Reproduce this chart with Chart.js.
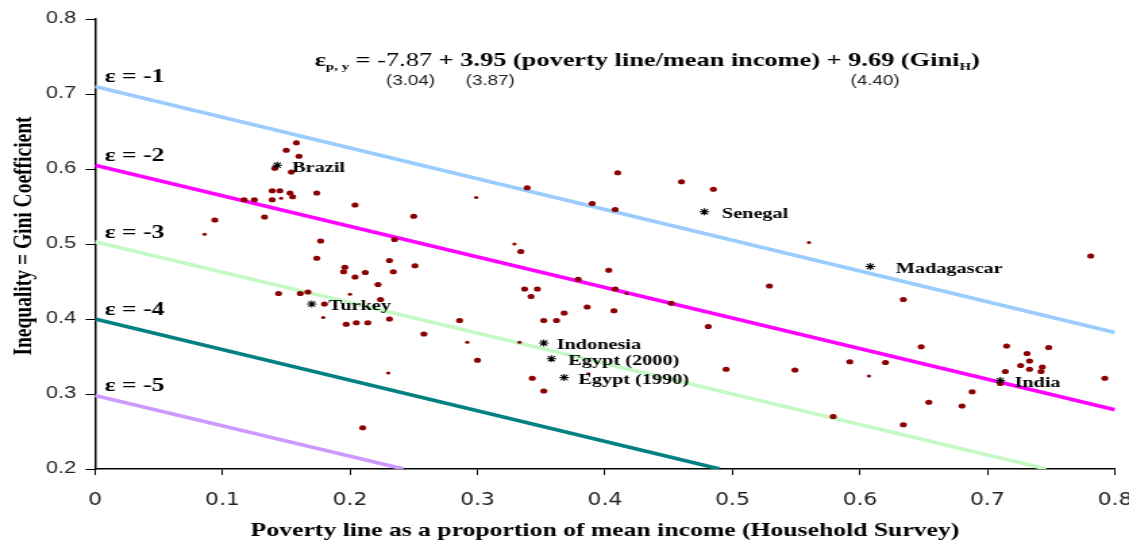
<!DOCTYPE html>
<html>
<head>
<meta charset="utf-8">
<script src="https://cdn.jsdelivr.net/npm/chart.js@4.4.1/dist/chart.umd.min.js"></script>
<style>
    html, body { margin: 0; padding: 0; background: #fff; overflow: hidden; }
    /* the original picture is stretched sideways, so the canvas is drawn narrow and widened */
    #chart { display: block; transform: scaleX(1.3505); transform-origin: 0 0; }
</style>
</head>
<body>
<canvas id="chart" width="836" height="543"></canvas>
<script>
// Tick labels
const xTicks = [0, 0.1, 0.2, 0.3, 0.4, 0.5, 0.6, 0.7, 0.8];
const yTicks = [0.2, 0.3, 0.4, 0.5, 0.6, 0.7, 0.8];

// Iso-elasticity lines (start and end points)
const elasticityLabels = ['ε = -1', 'ε = -2', 'ε = -3', 'ε = -4', 'ε = -5'];
const elasticityColors = ['#99ccff', '#ff00ff', '#c4f8c4', '#008080', '#cc99ff'];
const lineStartY = [0.710, 0.605, 0.503, 0.400, 0.298];
const lineEndX = [0.8, 0.8, 0.746, 0.490, 0.242];
const lineEndY = [0.382, 0.279, 0.2, 0.2, 0.2];

// Survey observations
const dotX = [0.158, 0.150, 0.160, 0.141, 0.154, 0.139, 0.145, 0.153, 0.155, 0.174,
    0.139, 0.117, 0.125, 0.204, 0.250, 0.133, 0.094, 0.177, 0.235, 0.174,
    0.231, 0.251, 0.196, 0.195, 0.212, 0.204, 0.234, 0.222, 0.144, 0.161,
    0.167, 0.224, 0.180, 0.231, 0.197, 0.205, 0.214,
    0.410, 0.460, 0.485, 0.339, 0.390, 0.408, 0.334, 0.403, 0.379, 0.408,
    0.452, 0.529, 0.337, 0.347, 0.342, 0.386, 0.407, 0.368, 0.352, 0.362,
    0.286, 0.481, 0.258, 0.300, 0.495, 0.549, 0.343, 0.352,
    0.781, 0.634, 0.648, 0.715, 0.731, 0.748, 0.733, 0.726, 0.733, 0.743,
    0.742, 0.714, 0.710, 0.592, 0.620, 0.792, 0.688, 0.654, 0.680, 0.579,
    0.634, 0.210];
const dotY = [0.635, 0.625, 0.617, 0.601, 0.596, 0.571, 0.571, 0.568, 0.563, 0.568,
    0.559, 0.559, 0.559, 0.552, 0.537, 0.536, 0.532, 0.504, 0.506, 0.481,
    0.478, 0.471, 0.469, 0.463, 0.462, 0.456, 0.463, 0.446, 0.434, 0.434,
    0.436, 0.426, 0.420, 0.400, 0.393, 0.395, 0.395,
    0.595, 0.583, 0.573, 0.575, 0.554, 0.546, 0.490, 0.465, 0.453, 0.440,
    0.421, 0.444, 0.440, 0.440, 0.430, 0.416, 0.411, 0.408, 0.398, 0.398,
    0.398, 0.390, 0.380, 0.345, 0.333, 0.332, 0.321, 0.304,
    0.484, 0.426, 0.363, 0.364, 0.354, 0.362, 0.344, 0.338, 0.333, 0.336,
    0.330, 0.330, 0.314, 0.343, 0.342, 0.321, 0.303, 0.289, 0.284, 0.270,
    0.259, 0.255];
const smallDotX = [0.146, 0.086, 0.200, 0.179, 0.299, 0.329, 0.417, 0.292, 0.333,
    0.387, 0.560, 0.607, 0.230];
const smallDotY = [0.561, 0.513, 0.433, 0.402, 0.562, 0.500, 0.434, 0.369, 0.369,
    0.327, 0.502, 0.324, 0.328];

// Named countries
const countryNames = ['Brazil', 'Turkey', 'Senegal', 'Madagascar', 'India',
    'Indonesia', 'Egypt (2000)', 'Egypt (1990)'];
const countryX = [0.143, 0.170, 0.478, 0.608, 0.710, 0.352, 0.358, 0.368];
const countryY = [0.605, 0.420, 0.543, 0.470, 0.318, 0.368, 0.347, 0.322];

const serif = '"Liberation Serif", "Times New Roman", serif';
const sans = '"Liberation Sans", Arial, sans-serif';

// Label offsets next to each star, in canvas pixels
const countryLabelDx = [11, 12.5, 13, 19, 10.5, 9.5, 12.5, 10.5];

const annotations = {
    id: 'annotations',
    afterDraw(chart) {
        const { ctx } = chart;
        const x = chart.scales.x;
        const y = chart.scales.y;
        ctx.save();
        ctx.fillStyle = '#000';

        // epsilon labels above each line
        ctx.font = 'bold 19px ' + serif;
        ctx.textAlign = 'left';
        ctx.textBaseline = 'middle';
        elasticityLabels.forEach((t, i) => {
            ctx.fillText(t, 77.5, y.getPixelForValue(lineStartY[i]) - 9);
        });

        // country names
        ctx.font = 'bold 15px ' + serif;
        countryNames.forEach((name, i) => {
            ctx.fillText(name, x.getPixelForValue(countryX[i]) + countryLabelDx[i],
                y.getPixelForValue(countryY[i]) + 2.5);
        });

        // regression equation
        ctx.textBaseline = 'alphabetic';
        const parts = [
            { t: 'ε', f: 'bold 19.5px ', dy: 0 },
            { t: 'p, y', f: 'bold 11px ', dy: 4 },
            { t: ' = ', f: 'bold 19.5px ', dy: 0 },
            { t: '-7.87', f: '19.5px ', dy: 0 },
            { t: ' + 3.95 (poverty line/mean income) + 9.69 (Gini', f: 'bold 19.5px ', dy: 0 },
            { t: 'H', f: 'bold 11px ', dy: 4 },
            { t: ')', f: 'bold 19.5px ', dy: 0 }
        ];
        let px = 233;
        parts.forEach(p => {
            ctx.font = p.f + serif;
            ctx.fillText(p.t, px, 66 + p.dy);
            px += ctx.measureText(p.t).width;
        });

        // standard errors
        ctx.font = '14px ' + sans;
        ctx.textAlign = 'center';
        ctx.textBaseline = 'middle';
        ctx.fillStyle = '#222';
        ctx.fillText('(3.04)', 304, 81);
        ctx.fillText('(3.87)', 363, 81);
        ctx.fillText('(4.40)', 648, 81);

        // axis titles
        ctx.fillStyle = '#000';
        ctx.font = 'bold 19px ' + serif;
        ctx.fillText('Poverty line as a proportion of mean income (Household Survey)', 448, 531);
        ctx.translate(18, 236);
        ctx.rotate(-Math.PI / 2);
        ctx.font = 'bold 19.5px ' + serif;
        ctx.fillText('Inequality = Gini Coefficient', 0, 0);
        ctx.restore();
    }
};

const toPoints = (xs, ys) => xs.map((v, i) => ({ x: v, y: ys[i] }));

const lineSets = elasticityLabels.map((label, i) => ({
    label: label,
    data: [{ x: 0, y: lineStartY[i] }, { x: lineEndX[i], y: lineEndY[i] }],
    showLine: true,
    borderColor: elasticityColors[i],
    borderWidth: 3.5,
    pointRadius: 0,
    fill: false
}));

new Chart(document.getElementById('chart'), {
    type: 'scatter',
    data: {
        datasets: [
            {
                label: 'Countries',
                data: toPoints(countryX, countryY),
                pointStyle: 'star',
                pointRadius: 3.6,
                borderColor: '#000',
                borderWidth: 1.1
            },
            {
                label: 'Surveys',
                data: toPoints(dotX, dotY),
                pointRadius: 2.6,
                backgroundColor: '#8b0000',
                borderColor: '#8b0000',
                borderWidth: 0
            },
            {
                label: 'Surveys (small)',
                data: toPoints(smallDotX, smallDotY),
                pointRadius: 1.6,
                backgroundColor: '#8b0000',
                borderColor: '#8b0000',
                borderWidth: 0
            },
            ...lineSets
        ]
    },
    options: {
        responsive: false,
        animation: false,
        devicePixelRatio: 1,
        layout: { padding: { top: 19, right: 0, left: 0, bottom: 0 } },
        plugins: {
            legend: { display: false },
            tooltip: { enabled: false }
        },
        scales: {
            x: {
                type: 'linear',
                min: 0,
                max: 0.8,
                afterBuildTicks: s => { s.ticks = xTicks.map(v => ({ value: v })); },
                afterFit: s => {
                    s.height = 74;
                    s.paddingLeft = 0;
                    s.paddingRight = 10.4;
                },
                ticks: {
                    padding: 15,
                    color: '#222',
                    font: { family: '"Liberation Sans Narrow", "DejaVu Sans Condensed", "Liberation Sans"', size: 18 },
                    callback: v => v === 0 ? '0' : v.toFixed(1)
                },
                grid: { drawOnChartArea: false, drawTicks: true, tickLength: 6, color: '#000' },
                border: { display: true, color: '#000', width: 1.5 }
            },
            y: {
                type: 'linear',
                min: 0.2,
                max: 0.8,
                afterBuildTicks: s => { s.ticks = yTicks.map(v => ({ value: v })); },
                afterFit: s => {
                    s.width = 70.3;
                    s.paddingTop = 0;
                    s.paddingBottom = 0;
                },
                ticks: {
                    padding: 7,
                    color: '#222',
                    font: { family: sans, size: 16 },
                    callback: v => v.toFixed(1)
                },
                grid: { drawOnChartArea: false, drawTicks: true, tickLength: 7, color: '#000' },
                border: { display: true, color: '#000', width: 1.5 }
            }
        }
    },
    plugins: [annotations]
});
</script>
</body>
</html>
